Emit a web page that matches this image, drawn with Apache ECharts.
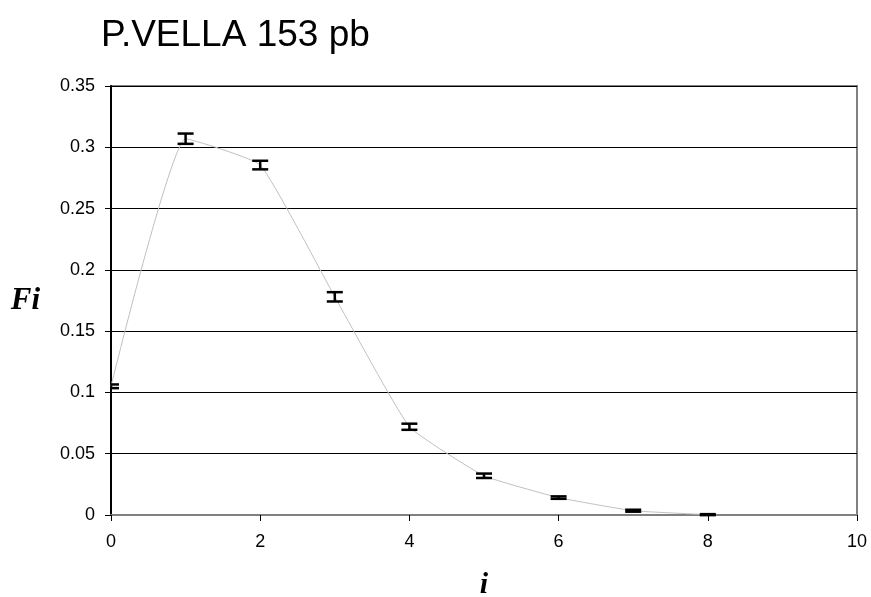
<!DOCTYPE html>
<html><head><meta charset="utf-8">
<script src="https://cdn.jsdelivr.net/npm/echarts@6/dist/echarts.min.js"></script>
<style>html,body{margin:0;padding:0;background:#fff;overflow:hidden}#c{width:871px;height:597px}</style>
</head><body><div id="c"></div>
<script>
var titleText = 'P.VELLA 153 pb';
var xVals = [0, 1, 2, 3, 4, 5, 6, 7, 8];
var fiVals = [0.105, 0.307, 0.2855, 0.178, 0.072, 0.032, 0.0142, 0.0035, 0.0003];
var errVals = [0.0015, 0.0042, 0.0035, 0.0038, 0.0025, 0.0018, 0.001, 0.0008, 0.0004];
var xAxisName = 'i';
var yAxisName = 'Fi';

var lineData = xVals.map(function(x, k){ return [x, fiVals[k]]; });
var errData = xVals.map(function(x, k){ return [x, fiVals[k] - errVals[k], fiVals[k] + errVals[k]]; });

var chart = echarts.init(document.getElementById('c'));
chart.setOption({
  animation: false,
  backgroundColor: '#fff',
  title: {text: titleText, left: 96, top: 12, textStyle: {fontFamily: 'Liberation Sans, Arial', fontSize: 37, fontWeight: 'normal', color: '#000'}},
  grid: {left: 111, width: 746, top: 86, height: 429, outerBoundsMode: 'none', containLabel: false,
    show: true, borderColor: '#808080', borderWidth: 2, backgroundColor: '#fff'},
  xAxis: {type: 'value', min: 0, max: 10, interval: 2,
    name: xAxisName, nameLocation: 'middle', nameGap: 55,
    nameTextStyle: {fontFamily: 'Liberation Serif, Times New Roman', fontSize: 30, fontWeight: 'bold', fontStyle: 'italic', color: '#000'},
    axisLine: {lineStyle: {color: '#808080', width: 2}},
    axisTick: {inside: false, length: 6, lineStyle: {color: '#000'}},
    axisLabel: {margin: 18, fontFamily: 'Liberation Sans, Arial', fontSize: 18, color: '#000'},
    splitLine: {show: false}},
  yAxis: {type: 'value', min: 0, max: 0.35, interval: 0.05,
    name: yAxisName, nameLocation: 'middle', nameGap: 71, nameRotate: 0,
    nameTextStyle: {fontFamily: 'Liberation Serif, Times New Roman', fontSize: 31, fontWeight: 'bold', fontStyle: 'italic', color: '#000'},
    axisLine: {show: true, lineStyle: {color: '#000', width: 2}},
    axisTick: {show: true, inside: false, length: 6, lineStyle: {color: '#000'}},
    axisLabel: {margin: 16, fontFamily: 'Liberation Sans, Arial', fontSize: 18, color: '#000',
      formatter: function(v){ return String(Math.round(v*100)/100); }},
    splitLine: {show: true, lineStyle: {color: '#000', width: 1}}},
  series: [
    {type: 'line', data: lineData, smooth: 0.12, symbol: 'none', z: 3,
     lineStyle: {color: '#c0c0c0', width: 1}},
    {type: 'custom', data: errData, z: 5,
     renderItem: function(params, api){
       var x = api.value(0);
       var lo = api.coord([x, api.value(1)]);
       var hi = api.coord([x, api.value(2)]);
       var hw = 8;
       var st = {stroke: '#000', lineWidth: 2.5};
       var cs = params.coordSys;
       return {type: 'group',
         clipPath: {type: 'rect', shape: {x: cs.x, y: cs.y - 2, width: cs.width, height: cs.height + 4}},
         children: [
         {type: 'line', shape: {x1: lo[0], y1: lo[1], x2: hi[0], y2: hi[1]}, style: st},
         {type: 'line', shape: {x1: lo[0]-hw, y1: lo[1], x2: lo[0]+hw, y2: lo[1]}, style: st},
         {type: 'line', shape: {x1: hi[0]-hw, y1: hi[1], x2: hi[0]+hw, y2: hi[1]}, style: st}
       ]};
     }}
  ]
});
</script></body></html>
